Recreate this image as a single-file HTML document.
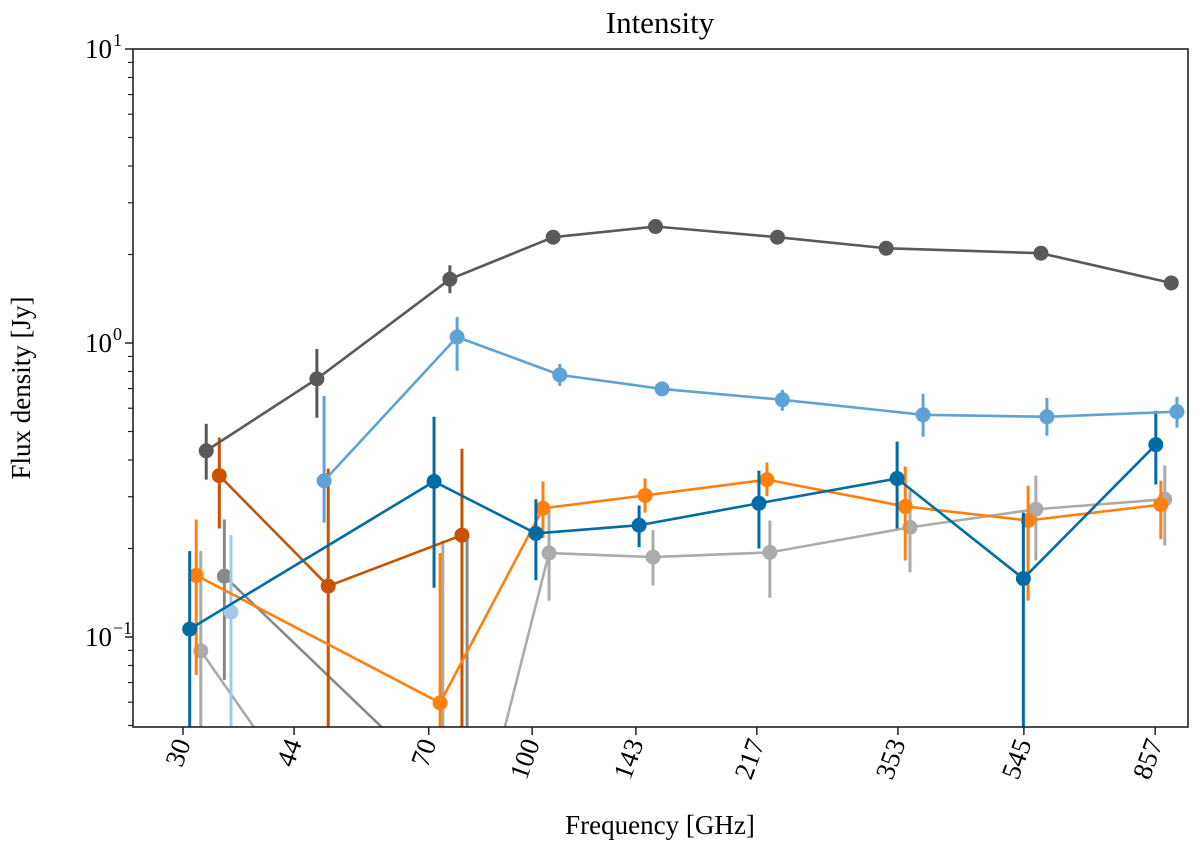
<!DOCTYPE html>
<html><head><meta charset="utf-8"><style>
html,body{margin:0;padding:0;background:#fff;width:1200px;height:847px;overflow:hidden;}
svg{display:block;font-family:"Liberation Serif",serif;}
</style></head><body>
<svg id="chart" width="1200" height="847" viewBox="0 0 1200 847" xmlns="http://www.w3.org/2000/svg">
<defs><clipPath id="clip"><rect x="133" y="49" width="1055" height="678"/></clipPath></defs>
<text x="660" y="33" text-anchor="middle" font-size="31">Intensity</text>
<text transform="translate(30,388) rotate(-90)" text-anchor="middle" font-size="27">Flux density [Jy]</text>
<text x="660" y="834" text-anchor="middle" font-size="27">Frequency [GHz]</text>
<g id="axes"></g>
<g id="plot" clip-path="url(#clip)"></g>
<rect x="133" y="49" width="1055" height="678" fill="none" stroke="#222" stroke-width="1.6"/>
</svg>
<script>
const xTicks = [30, 44, 70, 100, 143, 217, 353, 545, 857];
const yMajor = [10, 1, 0.1];
const yMajorLabels = [["10","1"],["10","0"],["10","−1"]];

const darkGrayF = [32.5, 47.6, 75.3, 107.5, 153, 233, 339, 578, 906];
const darkGrayV = [0.430, 0.755, 1.648, 2.29, 2.49, 2.29, 2.10, 2.02, 1.60];
const darkGrayLo = [0.343, 0.557, 1.477, 2.29, 2.49, 2.29, 2.10, 2.02, 1.60];
const darkGrayHi = [0.531, 0.954, 1.838, 2.29, 2.49, 2.29, 2.10, 2.02, 1.60];

const lightBlueF = [48.8, 77.2, 110, 156.5, 237, 385, 590, 924];
const lightBlueV = [0.340, 1.048, 0.779, 0.698, 0.641, 0.570, 0.561, 0.584];
const lightBlueLo = [0.245, 0.804, 0.715, 0.67, 0.588, 0.480, 0.484, 0.515];
const lightBlueHi = [0.661, 1.225, 0.849, 0.73, 0.693, 0.672, 0.651, 0.656];

const blueF = [30.7, 71.3, 101.3, 144.6, 218.6, 352, 544, 859];
const blueV = [0.1064, 0.338, 0.225, 0.240, 0.285, 0.346, 0.158, 0.451];
const blueLo = [0.01, 0.147, 0.156, 0.202, 0.200, 0.234, 0.01, 0.330];
const blueHi = [0.196, 0.561, 0.294, 0.280, 0.368, 0.462, 0.265, 0.588];

const orangeF = [31.4, 72.8, 103.8, 147.6, 224.7, 362, 553, 874];
const orangeV = [0.162, 0.0597, 0.274, 0.303, 0.343, 0.278, 0.249, 0.282];
const orangeLo = [0.0743, 0.01, 0.217, 0.265, 0.301, 0.182, 0.133, 0.215];
const orangeHi = [0.251, 0.193, 0.338, 0.346, 0.392, 0.380, 0.327, 0.340];

const darkOrangeF = [34.0, 49.5, 78.5];
const darkOrangeV = [0.354, 0.149, 0.222];
const darkOrangeLo = [0.234, 0.01, 0.01];
const darkOrangeHi = [0.477, 0.374, 0.437];

const grayF = [34.6, 79.9];
const grayV = [0.161, 0.026];
const grayLo = [0.0715, 0.01];
const grayHi = [0.251, 0.227];

const lightGrayF = [31.9, 47.5, 73.5, 106, 151.7, 227, 368, 568, 886];
const lightGrayV = [0.0897, 0.0245, 0.0073, 0.193, 0.187, 0.194, 0.236, 0.272, 0.294];
const lightGrayLo = [0.01, 0.01, 0.005, 0.133, 0.150, 0.136, 0.166, 0.182, 0.205];
const lightGrayHi = [0.196, 0.0245, 0.213, 0.270, 0.231, 0.249, 0.315, 0.354, 0.383];

const paleBlueF = [35.4];
const paleBlueV = [0.1216];
const paleBlueLo = [0.01];
const paleBlueHi = [0.222];

const NS = "http://www.w3.org/2000/svg";
const YBOT = 727;
function xs(f){ return 183 + 290 * Math.log(f / 30); }
function ys(v){ return 49 + 294 * (1 - Math.log10(v)); }
function mk(tag, attrs, parent){ const e = document.createElementNS(NS, tag); for (const k in attrs) e.setAttribute(k, attrs[k]); parent.appendChild(e); return e; }

const axes = document.getElementById('axes');
const plot = document.getElementById('plot');

xTicks.forEach(function(t){
  const x = xs(t);
  const tk = mk('line', {x1:x, x2:x, y1:727, y2:735, stroke:'#222', 'stroke-width':1.5}, axes);
  
  
  const lb = mk('text', {'font-size':27, 'text-anchor':'end', transform:'translate(' + (x + 8) + ',743) rotate(-70)'}, axes);
  lb.textContent = t;
  
  
});

yMajor.forEach(function(v, i){
  const y = ys(v);
  const tk = mk('line', {x1:125, x2:133, y1:y, y2:y, stroke:'#222', 'stroke-width':1.5}, axes);
  
  
  const lb = mk('text', {x:112, y:y + 9, 'font-size':27, 'text-anchor':'end'}, axes);
  lb.textContent = yMajorLabels[i][0];
  
  
  const sp = mk('text', {x:113, y:y - 3, 'font-size':18}, axes);
  sp.textContent = yMajorLabels[i][1];
  
  
});
[0.01, 0.1, 1].forEach(function(d){
  for (let m = 2; m <= 9; m++){
    const v = d * m;
    if (v < 0.05 || v > 10) continue;
    const y = ys(v);
    const tk = mk('line', {x1:128, x2:133, y1:y, y2:y, stroke:'#222', 'stroke-width':1.2}, axes);
    
    
  }
});

function series(name, color, F, V, Lo, Hi){
  const g = mk('g', {}, plot);
  
  
  F.forEach(function(f, i){
    const y1 = Math.min(ys(Lo[i]), YBOT + 2), y2 = Math.min(ys(Hi[i]), YBOT + 2);
    if (y1 === y2) return;
    const eb = mk('line', {x1:xs(f), x2:xs(f), y1:y1, y2:y2, stroke:color, 'stroke-width':3}, g);
    
    
  });
  // line segments clipped to plot bottom
  for (let i = 0; i < F.length - 1; i++){
    let xa = xs(F[i]), ya = ys(V[i]), xb = xs(F[i+1]), yb = ys(V[i+1]);
    if (ya > YBOT && yb > YBOT) continue;
    if (ya > YBOT){ const t = (YBOT + 2 - yb) / (ya - yb); xa = xb + (xa - xb) * t; ya = YBOT + 2; }
    if (yb > YBOT){ const t = (YBOT + 2 - ya) / (yb - ya); xb = xa + (xb - xa) * t; yb = YBOT + 2; }
    const seg = mk('line', {x1:xa, y1:ya, x2:xb, y2:yb, stroke:color, 'stroke-width':2.6, 'stroke-linecap':'round'}, g);
    
    
  }
  F.forEach(function(f, i){
    const cy = ys(V[i]);
    if (cy > YBOT + 10) return;
    const c = mk('circle', {cx:xs(f), cy:cy, r:7.5, fill:color}, g);
    
    
  });
}
series('light-gray', '#ababab', lightGrayF, lightGrayV, lightGrayLo, lightGrayHi);
series('gray', '#898989', grayF, grayV, grayLo, grayHi);
series('pale-blue', '#a2c8ec', paleBlueF, paleBlueV, paleBlueLo, paleBlueHi);
series('dark-orange', '#c85200', darkOrangeF, darkOrangeV, darkOrangeLo, darkOrangeHi);
series('orange', '#ff800e', orangeF, orangeV, orangeLo, orangeHi);
series('blue', '#006ba4', blueF, blueV, blueLo, blueHi);
series('light-blue', '#5fa2d5', lightBlueF, lightBlueV, lightBlueLo, lightBlueHi);
series('dark-gray', '#595959', darkGrayF, darkGrayV, darkGrayLo, darkGrayHi);
</script>
</body></html>
